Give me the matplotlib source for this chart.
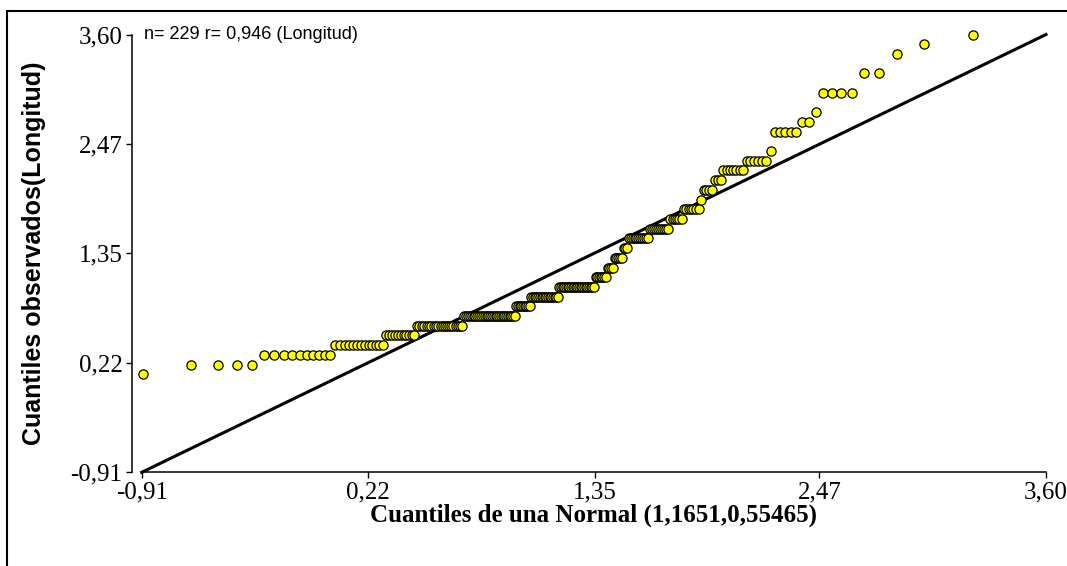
import matplotlib
matplotlib.use('Agg')
import matplotlib.pyplot as plt
from matplotlib.patches import Rectangle
import numpy as np

# valores observados (Longitud) agrupados por nivel
niveles = [0.1, 0.2, 0.3, 0.4, 0.5, 0.6, 0.7, 0.8, 0.9, 1.0, 1.1, 1.2, 1.3, 1.4, 1.5, 1.6,
           1.7, 1.8, 1.9, 2.0, 2.1, 2.2, 2.3, 2.4, 2.6, 2.7, 2.8, 3.0, 3.2, 3.4, 3.5, 3.6]
conteos = [1, 4, 10, 13, 11, 21, 29, 9, 17, 22, 7, 4, 5, 3, 11, 10,
           6, 7, 1, 4, 3, 7, 6, 1, 5, 2, 1, 4, 2, 1, 1, 1]

# cuantiles de la normal (eje x), uno por punto
cuantiles_normal = [
    -0.905, -0.662, -0.529, -0.435, -0.362, -0.301, -0.248, -0.201, -0.160, -0.122,
    -0.087, -0.055, -0.025, 0.004, 0.030, 0.056, 0.080, 0.103, 0.125, 0.146,
    0.166, 0.186, 0.205, 0.223, 0.241, 0.259, 0.275, 0.292, 0.308, 0.323,
    0.339, 0.354, 0.368, 0.383, 0.397, 0.410, 0.424, 0.437, 0.450, 0.463,
    0.475, 0.488, 0.500, 0.512, 0.524, 0.535, 0.547, 0.558, 0.570, 0.581,
    0.592, 0.603, 0.614, 0.624, 0.635, 0.645, 0.656, 0.666, 0.676, 0.686,
    0.696, 0.706, 0.716, 0.725, 0.735, 0.745, 0.754, 0.764, 0.773, 0.782,
    0.792, 0.801, 0.810, 0.819, 0.828, 0.837, 0.846, 0.855, 0.864, 0.873,
    0.882, 0.890, 0.899, 0.908, 0.916, 0.925, 0.933, 0.942, 0.950, 0.959,
    0.967, 0.976, 0.984, 0.993, 1.001, 1.009, 1.018, 1.026, 1.034, 1.042,
    1.051, 1.059, 1.067, 1.075, 1.084, 1.092, 1.100, 1.108, 1.116, 1.124,
    1.133, 1.141, 1.149, 1.157, 1.165, 1.173, 1.181, 1.190, 1.198, 1.206,
    1.214, 1.222, 1.230, 1.239, 1.247, 1.255, 1.263, 1.271, 1.280, 1.288,
    1.296, 1.304, 1.313, 1.321, 1.329, 1.338, 1.346, 1.354, 1.363, 1.371,
    1.380, 1.388, 1.397, 1.405, 1.414, 1.423, 1.431, 1.440, 1.449, 1.457,
    1.466, 1.475, 1.484, 1.493, 1.502, 1.511, 1.520, 1.529, 1.538, 1.548,
    1.557, 1.566, 1.576, 1.585, 1.595, 1.605, 1.614, 1.624, 1.634, 1.644,
    1.654, 1.664, 1.674, 1.685, 1.695, 1.706, 1.716, 1.727, 1.738, 1.749,
    1.760, 1.772, 1.783, 1.795, 1.806, 1.818, 1.830, 1.842, 1.855, 1.867,
    1.880, 1.893, 1.906, 1.920, 1.934, 1.948, 1.962, 1.977, 1.991, 2.007,
    2.022, 2.038, 2.055, 2.072, 2.089, 2.107, 2.125, 2.144, 2.164, 2.184,
    2.205, 2.227, 2.250, 2.275, 2.300, 2.327, 2.355, 2.385, 2.417, 2.452,
    2.490, 2.532, 2.578, 2.631, 2.692, 2.766, 2.859, 2.992, 3.235,
]

ticks = [-0.91, 0.22, 1.35, 2.47, 3.60]
tick_labels = ['-0,91', '0,22', '1,35', '2,47', '3,60']
linea = [-0.91, 3.60]

y_obs = np.repeat(niveles, conteos)
x_q = np.array(cuantiles_normal)

fig = plt.figure(figsize=(10.67, 5.66), dpi=100)
ax = fig.add_axes([0.1328, 0.1655, 0.9803 - 0.1328, 0.939 - 0.1655])

# recta y = x
ax.plot(linea, linea, color='black', lw=2.2, zorder=2, clip_on=False)
ax.scatter(x_q, y_obs, s=44, c='#FFFF00', edgecolors='black', linewidths=0.9, zorder=3, clip_on=False)

ax.set_xlim(-0.91, 3.60)
ax.set_ylim(-0.91, 3.60)
ax.set_xticks(ticks)
ax.set_xticklabels(tick_labels)
ax.set_yticks(ticks)
ax.set_yticklabels(tick_labels)
for s in ['top', 'right']:
    ax.spines[s].set_visible(False)
ax.spines['left'].set_position(('outward', 7))
ax.spines['left'].set_linewidth(1.1)
ax.spines['bottom'].set_linewidth(1.1)
ax.tick_params(direction='out', length=4.3, width=1, pad=2.5)
for lab in ax.get_xticklabels() + ax.get_yticklabels():
    lab.set_fontfamily('Liberation Serif')
    lab.set_fontsize(18)

ax.set_xlabel('Cuantiles de una Normal (1,1651,0,55465)', fontfamily='Liberation Serif',
              fontweight='bold', fontsize=18, labelpad=0)
ax.set_ylabel('Cuantiles observados(Longitud)', fontfamily='Liberation Sans',
              fontweight='bold', fontsize=18, labelpad=18)
ax.text(0.003, 1.0, 'n= 229 r= 0,946 (Longitud)', transform=ax.transAxes,
        fontfamily='Liberation Sans', fontsize=13, va='center', ha='left')

# marco de la figura
fig.patches.append(Rectangle((7 / 1067, -0.1), 1.2, 1 - 11 / 566 + 0.1, transform=fig.transFigure,
                             fill=False, edgecolor='black', lw=1.5))

fig.savefig('out.png', dpi=100)
